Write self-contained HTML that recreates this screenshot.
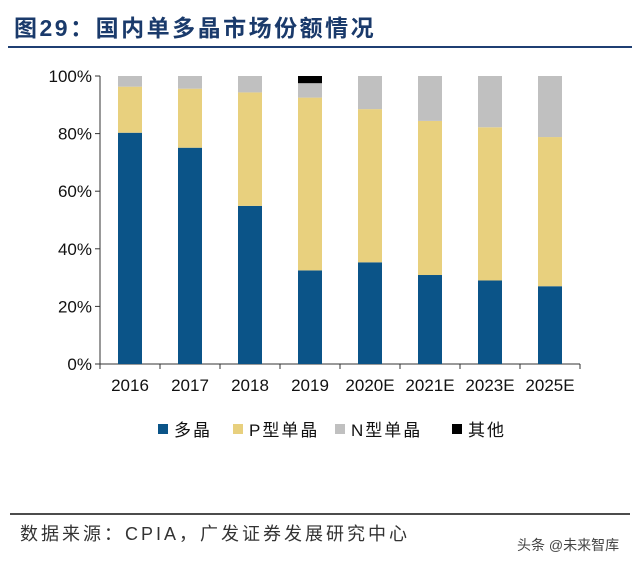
<!DOCTYPE html>
<html><head><meta charset="utf-8"><style>
body{margin:0;width:640px;height:560px;background:#fff;overflow:hidden;font-family:"Liberation Sans","Noto Sans CJK SC",sans-serif;}
</style></head><body>
<svg width="640" height="560" id="chart">
<text x="14" y="36" font-size="23" font-weight="bold" fill="#1a3a6b" letter-spacing="2.5" font-family="Liberation Sans, Noto Sans CJK SC, sans-serif">图29：国内单多晶市场份额情况</text>
<line x1="8" y1="47" x2="632" y2="47" stroke="#1f3f73" stroke-width="2"/>
<g id="plot"></g>
<line x1="10" y1="514" x2="630" y2="514" stroke="#111" stroke-width="1.5"/>
<text x="20" y="540" font-size="18" fill="#333" letter-spacing="3">数据来源：CPIA，广发证券发展研究中心</text>
<text x="517" y="550" font-size="14" fill="#444">头条 @未来智库</text>
</svg>
<script>
const categories=["2016","2017","2018","2019","2020E","2021E","2023E","2025E"];
const multi=[80.3,75.1,54.9,32.5,35.3,30.9,29.0,27.0];
const pType=[16.0,20.5,39.4,60.0,53.2,53.5,53.2,51.8];
const nType=[3.7,4.4,5.7,5.0,11.5,15.6,17.8,21.2];
const other=[0,0,0,2.5,0,0,0,0];
const yTicks=[0,20,40,60,80,100];
const seriesNames=["多晶","P型单晶","N型单晶","其他"];
const colors=["#0b5488","#e8d07e","#c0c0c0","#000000"];
const ns="http://www.w3.org/2000/svg";
const g=document.getElementById('plot');
const x0=100,x1=580,yTop=76,yBot=364;
const band=(x1-x0)/categories.length, bw=24;
const y=v=>yBot-(v/100)*(yBot-yTop);
const xc=i=>x0+band*(i+0.5);
function mk(t,a){const e=document.createElementNS(ns,t);for(const k in a)e.setAttribute(k,a[k]);g.appendChild(e);return e;}
let ax=mk('line',{x1:x0,y1:yTop,x2:x0,y2:yBot,stroke:'#333'});


let bx=mk('line',{x1:x0,y1:yBot,x2:x1,y2:yBot,stroke:'#333'});


yTicks.forEach(t=>{
 let tk=mk('line',{x1:x0-5,y1:y(t),x2:x0,y2:y(t),stroke:'#333'});
 
 
 let tx=mk('text',{x:x0-8,y:y(t)+6,'text-anchor':'end','font-size':17,fill:'#111'});
 tx.textContent=t+'%';
 
 
});
for(let i=0;i<=categories.length;i++){
 let tk=mk('line',{x1:x0+band*i,y1:yBot,x2:x0+band*i,y2:yBot+5,stroke:'#333'});
 
 
}
const series=[multi,pType,nType,other];
categories.forEach((c,i)=>{
 let acc=0;
 series.forEach((s,k)=>{
  const v=s[i]; if(v<=0)return;
  let r=mk('rect',{x:xc(i)-bw/2,y:y(acc+v),width:bw,height:y(acc)-y(acc+v),fill:colors[k]});
  
  
  acc+=v;
 });
 let tx=mk('text',{x:xc(i),y:yBot+27,'text-anchor':'middle','font-size':17,fill:'#111'});
 tx.textContent=c;
 
 
});
const legX=[158,233,335,452];
seriesNames.forEach((n,k)=>{
 let r=mk('rect',{x:legX[k],y:424,width:10,height:10,fill:colors[k]});
 
 
 let t=mk('text',{x:legX[k]+16,y:436,'font-size':17,fill:'#111','letter-spacing':2});
 t.textContent=n;
 
 
});
</script>
</body></html>
